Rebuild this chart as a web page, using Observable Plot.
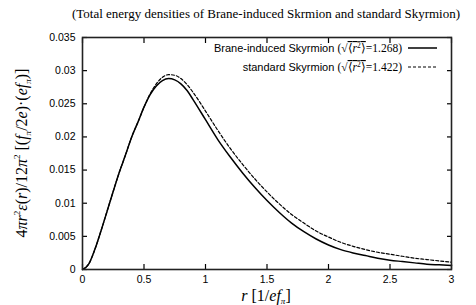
<!DOCTYPE html>
<html><head><meta charset="utf-8">
<script src="https://cdn.jsdelivr.net/npm/d3@7"></script>
<script src="https://cdn.jsdelivr.net/npm/@observablehq/plot@0.6"></script>
<style>body{margin:0;background:#fff}</style>
</head><body><div id="chart"></div>
<script>
const rs = [0,0.05,0.1,0.15,0.2,0.25,0.3,0.35,0.4,0.45,0.5,0.55,0.6,0.65,0.7,0.75,0.8,0.85,0.9,1.0,1.1,1.2,1.3,1.4,1.5,1.6,1.7,1.8,1.9,2.0,2.1,2.2,2.3,2.4,2.5,2.6,2.7,2.8,2.9,3.0];
const brane = [0,0.0008,0.0030,0.0058,0.0088,0.0118,0.0147,0.0173,0.0200,0.0222,0.0245,0.0264,0.0277,0.0285,0.0288,0.0286,0.0280,0.0270,0.0256,0.0226,0.0196,0.0170,0.0146,0.0124,0.0104,0.0086,0.0070,0.0057,0.0046,0.0037,0.0030,0.0025,0.0021,0.0017,0.0014,0.0012,0.0010,0.0008,0.0007,0.0006];
const standard = [0,0.0008,0.0030,0.0058,0.0088,0.0118,0.0147,0.0173,0.0200,0.0222,0.0245,0.0265,0.0280,0.0290,0.0294,0.0293,0.0288,0.0279,0.0267,0.0239,0.0210,0.0183,0.0159,0.0137,0.0117,0.0099,0.0083,0.0070,0.0058,0.0049,0.0041,0.0035,0.0030,0.0026,0.0023,0.0020,0.0017,0.0015,0.0013,0.0011];
const xTicks = [0,0.5,1,1.5,2,2.5,3];
const xTickLabels = ["0","0.5","1","1.5","2","2.5","3"];
const yTicks = [0,0.005,0.01,0.015,0.02,0.025,0.03,0.035];
const yTickLabels = ["0","0.005","0.01","0.015","0.02","0.025","0.03","0.035"];
const seriesNames = ["Brane-induced Skyrmion", "standard Skyrmion"];
const rmsValues = ["1.268", "1.422"];
const titleText = "(Total energy densities of Brane-induced Skrmion and standard Skyrmion)";

const dataB = rs.map((r,i)=>({r, v: brane[i]}));
const dataS = rs.map((r,i)=>({r, v: standard[i]}));

const W = 476, H = 305;
const chart = Plot.plot({
  width: W, height: H,
  marginTop: 37, marginBottom: 36, marginLeft: 82, marginRight: 25,
  style: {fontFamily: "Liberation Sans, Arial, sans-serif", fontSize: "10.5px", color: "#000", background: "#fff"},
  x: {domain: [0,3]},
  y: {domain: [0,0.035]},
  marks: [
    Plot.line(dataB, {x:"r", y:"v", stroke:"#000", strokeWidth:1.5, curve:"monotone-x"}),
    Plot.line(dataS, {x:"r", y:"v", stroke:"#000", strokeWidth:1.2, strokeDasharray:"3,2", curve:"monotone-x"}),
    Plot.axisX({ticks:xTicks, tickFormat:(d)=>xTickLabels[xTicks.indexOf(d)], tickSize:-5, tickPadding:11, label:null, strokeWidth:1.2}),
    Plot.axisX({anchor:"top", ticks:xTicks, tickFormat:()=>"", tickSize:-5, label:null, strokeWidth:1.2}),
    Plot.axisY({ticks:yTicks, tickFormat:(d)=>yTickLabels[yTicks.findIndex(t=>Math.abs(t-d)<1e-9)], tickSize:-5, tickPadding:12, label:null, strokeWidth:1.2}),
    Plot.axisY({anchor:"right", ticks:yTicks, tickFormat:()=>"", tickSize:-5, label:null, strokeWidth:1.2}),
    Plot.frame({stroke:"#222", strokeWidth:1.6})
  ]
});
document.getElementById("chart").appendChild(chart);

const svg = d3.select(chart);
const serif = "Liberation Serif, Times New Roman, serif";
svg.append("text").attr("x", 266).attr("y", 18).attr("text-anchor","middle")
  .attr("font-family", serif).attr("font-size", 13).attr("fill","#000").text(titleText);

// legend
const legY = [48, 67];
seriesNames.forEach((name,i)=>{
  const t = svg.append("text").attr("x", 402).attr("y", legY[i]+4).attr("text-anchor","end")
    .attr("font-size", 11).attr("fill","#000");
  t.append("tspan").attr("font-family","Liberation Sans, Arial, sans-serif").text(name + " ");
  t.append("tspan").attr("font-family", serif).attr("font-size", 11.5).text("(√");
  t.append("tspan").attr("font-family", serif).attr("font-size", 11.5)
    .style("text-decoration","overline").html("⟨<tspan font-style='italic'>r</tspan><tspan font-size='7.5' dy='-4'>2</tspan><tspan dy='4'>⟩</tspan>");
  t.append("tspan").attr("font-family", serif).attr("font-size", 11.5).text("=" + rmsValues[i] + ")");
  svg.append("line").attr("x1", 408).attr("x2", 437).attr("y1", legY[i]).attr("y2", legY[i])
    .attr("stroke","#000").attr("stroke-width", i===0?1.5:1.2).attr("stroke-dasharray", i===0?null:"3,2");
});

// y label
const yl = svg.append("text").attr("transform","translate(27,153) rotate(-90)").attr("text-anchor","middle")
  .attr("font-family", serif).attr("font-size", 16).attr("fill","#000");
yl.html("4<tspan font-style='italic'>πr</tspan><tspan font-size='9' dy='-7'>2</tspan><tspan dy='7' font-style='italic'>ε</tspan>(<tspan font-style='italic'>r</tspan>)/12<tspan font-style='italic'>π</tspan><tspan font-size='9' dy='-7'>2</tspan><tspan dy='7'> [(</tspan><tspan font-style='italic'>f</tspan><tspan font-size='9' dy='4' font-style='italic'>π</tspan><tspan dy='-4'>/2</tspan><tspan font-style='italic'>e</tspan>)·(<tspan font-style='italic'>ef</tspan><tspan font-size='9' dy='4' font-style='italic'>π</tspan><tspan dy='-4'>)]</tspan>");

// x label
const xl = svg.append("text").attr("x", 266).attr("y", 301).attr("text-anchor","middle")
  .attr("font-family", serif).attr("font-size", 16).attr("fill","#000");
xl.html("<tspan font-style='italic'>r</tspan> [1/<tspan font-style='italic'>ef</tspan><tspan font-size='9' dy='3' font-style='italic'>π</tspan><tspan dy='-3'>]</tspan>");
</script>
</body></html>
